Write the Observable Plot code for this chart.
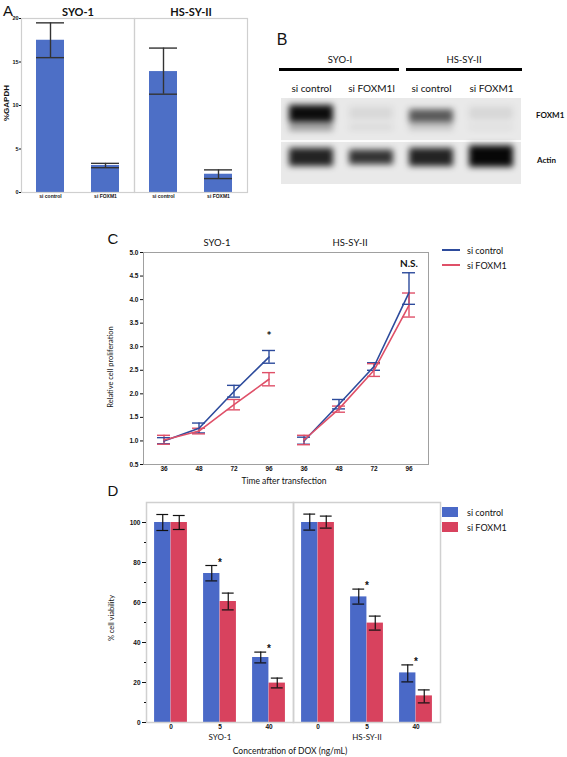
<!DOCTYPE html>
<html><head><meta charset="utf-8">
<script src="https://cdn.jsdelivr.net/npm/d3@7"></script>
<script src="https://cdn.jsdelivr.net/npm/@observablehq/plot@0.6"></script>
<style>
body{margin:0;background:#fff;}
#fig{position:relative;width:567px;height:757px;overflow:hidden;font-family:Lato,"Open Sans",sans-serif;color:#111;}
.abs{position:absolute;white-space:nowrap;line-height:1;}
</style></head><body><div id="fig"></div>
<script>
// ---------- Panel A: qPCR ----------
const aCellLines = ["SYO-1", "HS-SY-II"];
const aConditions = ["si control", "si FOXM1"];
const aMean = [17.5, 3.1, 13.9, 2.1];
const aLow = [15.5, 2.85, 11.3, 1.6];
const aHigh = [19.5, 3.35, 16.6, 2.6];
const aYTicks = [0, 5, 10, 15, 20];

// ---------- Panel B: western blot ----------
const bCellLines = ["SYO-I", "HS-SY-II"];
const bLaneIds = ["L1", "L2", "L3", "L4"];
const bLaneLabels = ["si control", "si FOXM1l", "si control", "si FOXM1"];
const bRowLabels = ["FOXM1", "Actin"];
const bFoxm1Intensity = [0.95, 0.07, 0.62, 0.08];
const bFoxm1Top = [1.84, 1.80, 1.74, 1.80];
const bFoxm1Bottom = [1.44, 1.50, 1.43, 1.50];
const bFoxm1LowerIntensity = [0.35, 0.08, 0.18, 0.05];
const bFoxm1LowerTop = [1.40, 1.38, 1.38, 1.38];
const bFoxm1LowerBottom = [1.24, 1.26, 1.26, 1.26];
const bActinIntensity = [0.85, 0.78, 0.85, 0.97];
const bActinTop = [0.84, 0.80, 0.84, 0.90];
const bActinBottom = [0.42, 0.46, 0.42, 0.40];

// ---------- Panel C: proliferation ----------
const cCellLines = ["SYO-1", "HS-SY-II"];
const cHours = ["36", "48", "72", "96"];
const cSeries = ["si control", "si FOXM1"];
const cSyoCtrlMean = [1.00, 1.27, 2.05, 2.78];
const cSyoCtrlLow = [0.94, 1.17, 1.93, 2.65];
const cSyoCtrlHigh = [1.07, 1.38, 2.18, 2.92];
const cSyoFoxMean = [1.02, 1.21, 1.77, 2.31];
const cSyoFoxLow = [0.93, 1.15, 1.66, 2.17];
const cSyoFoxHigh = [1.12, 1.27, 1.88, 2.45];
const cHsCtrlMean = [1.00, 1.78, 2.58, 4.15];
const cHsCtrlLow = [0.93, 1.68, 2.50, 3.90];
const cHsCtrlHigh = [1.08, 1.88, 2.66, 4.57];
const cHsFoxMean = [1.02, 1.68, 2.50, 3.88];
const cHsFoxLow = [0.92, 1.61, 2.37, 3.63];
const cHsFoxHigh = [1.12, 1.74, 2.64, 4.14];
const cYTicks = [0.5, 1.0, 1.5, 2.0, 2.5, 3.0, 3.5, 4.0, 4.5, 5.0];
const cNoteLabels = ["*", "N.S."];
const cNoteCells = ["SYO-1", "HS-SY-II"];
const cNoteHours = ["96", "96"];

// ---------- Panel D: viability ----------
const dCellLines = ["SYO-1", "HS-SY-II"];
const dDoses = ["0", "5", "40"];
const dSeries = ["si control", "si FOXM1"];
const dSyoCtrlMean = [100, 74.5, 32.5];
const dSyoCtrlLow = [96.0, 70.8, 29.8];
const dSyoCtrlHigh = [104.0, 78.5, 35.2];
const dSyoFoxMean = [100, 60.5, 19.7];
const dSyoFoxLow = [96.5, 56.3, 17.3];
const dSyoFoxHigh = [103.5, 64.7, 22.2];
const dHsCtrlMean = [100, 62.8, 24.8];
const dHsCtrlLow = [96.2, 59.2, 20.3];
const dHsCtrlHigh = [104.2, 66.7, 28.8];
const dHsFoxMean = [100, 49.7, 13.3];
const dHsFoxLow = [97.2, 46.2, 9.8];
const dHsFoxHigh = [103.2, 53.2, 16.3];
const dSignificant = [false, true, true];
const dYTicks = [0, 20, 40, 60, 80, 100];
const dMinorTicks = [10, 30, 50, 70, 90];

// colours
const aBlue = "#4d6fc6";
const cBlue = "#2d4b9c", cRed = "#df5068";
const dBlue = "#4a69c7", dRed = "#d8425e";
const tickFont = "'Liberation Sans', Arial, sans-serif";
const titleFont = "Lato, 'Open Sans', sans-serif";

const fig = document.getElementById("fig");
function place(el, left, top, width) {
  const w = document.createElement("div");
  w.className = "abs";
  w.style.left = left + "px"; w.style.top = top + "px";
  if (width) w.style.width = width + "px";
  w.append(el); fig.append(w); return w;
}
function label(text, cx, cy, size, opts = {}) {
  const d = document.createElement("div");
  d.className = "abs";
  d.textContent = text;
  d.style.fontSize = size + "px";
  d.style.fontFamily = opts.font || titleFont;
  d.style.fontWeight = opts.bold ? "bold" : "normal";
  if (opts.color) d.style.color = opts.color;
  d.style.left = cx + "px"; d.style.top = cy + "px";
  const rot = opts.rotate ? " rotate(-90deg)" : "";
  d.style.transform = (opts.left ? "translate(0,-50%)" : "translate(-50%,-50%)") + rot;
  fig.append(d); return d;
}
function swatch(left, top, w, h, color) {
  const d = document.createElement("div");
  d.className = "abs";
  Object.assign(d.style, {left: left + "px", top: top + "px", width: w + "px", height: h + "px", background: color});
  fig.append(d);
}

// ===== Panel A =====
const aData = aCellLines.flatMap((c, i) => aConditions.map((k, j) => ({
  cell: c, cond: k, mean: aMean[i * 2 + j], low: aLow[i * 2 + j], high: aHigh[i * 2 + j]
})));
const plotA = Plot.plot({
  width: 260, height: 200, marginLeft: 21, marginRight: 13, marginTop: 18, marginBottom: 8,
  style: {background: "transparent", overflow: "visible", fontFamily: tickFont, fontWeight: "bold", fontSize: "5.5px"},
  fx: {domain: aCellLines, padding: 0},
  x: {domain: aConditions, paddingInner: 0.49, paddingOuter: 0.27},
  y: {domain: [0, 20]},
  marks: [
    Plot.barY(aData, {fx: "cell", x: "cond", y: "mean", fill: aBlue}),
    Plot.ruleX(aData, {fx: "cell", x: "cond", y1: "low", y2: "high", stroke: "#333", strokeWidth: 1.4}),
    Plot.tickY(aData, {fx: "cell", x: "cond", y: "low", stroke: "#333", strokeWidth: 1.4, insetLeft: 0, insetRight: 0}),
    Plot.tickY(aData, {fx: "cell", x: "cond", y: "high", stroke: "#333", strokeWidth: 1.4, insetLeft: 0, insetRight: 0}),
    Plot.frame({stroke: "#cfcfcf", strokeWidth: 1.2}),
    Plot.axisY({ticks: aYTicks, tickSize: 2, tickPadding: 1, label: null, fontSize: 5.5}),
    Plot.axisX({tickSize: 0, tickPadding: 1.5, label: null, fontSize: 5}),
    Plot.axisFx({anchor: "top", tickSize: 0, tickPadding: 3, label: null, fontSize: 11, fontFamily: titleFont, fontWeight: "bold"})
  ]
});
place(plotA, 0, 0, 260);
label("A", 8, 10, 15, {font: tickFont});
label("%GAPDH", 7, 103, 8, {font: tickFont, bold: true, rotate: true});

// ===== Panel B =====
const bBackground = bLaneIds.flatMap(l => [
  {lane: l, y1: 1.02, y2: 2.0},
  {lane: l, y1: 0.0, y2: 0.98}
]);
const bBands = bLaneIds.flatMap((l, i) => [
  {lane: l, y1: bFoxm1Bottom[i], y2: bFoxm1Top[i], v: bFoxm1Intensity[i]},
  {lane: l, y1: bFoxm1LowerBottom[i], y2: bFoxm1LowerTop[i], v: bFoxm1LowerIntensity[i]},
  {lane: l, y1: bActinBottom[i], y2: bActinTop[i], v: bActinIntensity[i]}
]);
const laneLabel = d => bLaneLabels[bLaneIds.indexOf(d)];
const plotB = Plot.plot({
  width: 243, height: 106, marginLeft: 0, marginRight: 0, marginTop: 20, marginBottom: 0,
  style: {background: "transparent", overflow: "visible", fontFamily: titleFont, fontSize: "10px"},
  x: {domain: bLaneIds, padding: 0},
  y: {domain: [0, 2], axis: null},
  opacity: {type: "identity"},
  marks: [
    Plot.barY(bBackground, {x: "lane", y1: "y1", y2: "y2", fill: "#e9e9e9", inset: 0}),
    Plot.barY(bBands, {x: "lane", y1: "y1", y2: "y2", fill: "#000", fillOpacity: "v", insetLeft: 8, insetRight: 8, ariaDescription: "bands"}),
    Plot.axisX({anchor: "top", tickSize: 0, tickPadding: 7, label: null, fontSize: 10, tickFormat: laneLabel})
  ]
});
{
  const s = d3.select(plotB);
  const defs = s.insert("defs", ":first-child");
  defs.append("filter").attr("id", "blotBlur").attr("x", "-40%").attr("y", "-80%").attr("width", "180%").attr("height", "260%")
    .append("feGaussianBlur").attr("stdDeviation", 3);
  let g = s.selectAll('g[aria-description="bands"]');
  if (g.empty()) { const bars = s.selectAll('g[aria-label="bar"]').nodes(); g = d3.select(bars[bars.length - 1]); }
  g.attr("filter", "url(#blotBlur)");
}
place(plotB, 279, 78, 243);
label("B", 282, 40, 16, {font: tickFont});
label(bCellLines[0], 340, 60, 9.5);
label(bCellLines[1], 464, 60, 9.5);
swatch(279, 68, 120, 3, "#000");
swatch(406, 68, 116, 3, "#000");
label(bRowLabels[0], 536, 115, 8, {bold: true, left: true});
label(bRowLabels[1], 537, 160, 8, {bold: true, left: true});

// ===== Panel C =====
const cGroups = [
  {cell: "SYO-1", series: "si control", mean: cSyoCtrlMean, low: cSyoCtrlLow, high: cSyoCtrlHigh},
  {cell: "SYO-1", series: "si FOXM1", mean: cSyoFoxMean, low: cSyoFoxLow, high: cSyoFoxHigh},
  {cell: "HS-SY-II", series: "si control", mean: cHsCtrlMean, low: cHsCtrlLow, high: cHsCtrlHigh},
  {cell: "HS-SY-II", series: "si FOXM1", mean: cHsFoxMean, low: cHsFoxLow, high: cHsFoxHigh}
];
const cData = cGroups.flatMap(g => cHours.map((h, i) => ({
  key: g.cell + "|" + h, cell: g.cell, hour: h, series: g.series, z: g.cell + g.series,
  mean: g.mean[i], low: g.low[i], high: g.high[i]
})));
const cKeys = cCellLines.flatMap(c => cHours.map(h => c + "|" + h));
const cNotes = cNoteLabels.map((t, i) => {
  const k = cNoteCells[i] + "|" + cNoteHours[i];
  const top = d3.max(cData.filter(d => d.key === k), d => d.high);
  return {key: k, text: t, y: top + (t === "*" ? 0.3 : 0.2)};
});
const plotC = Plot.plot({
  width: 340, height: 255, marginLeft: 43, marginRight: 12, marginTop: 27, marginBottom: 16,
  style: {background: "transparent", overflow: "visible", fontFamily: tickFont, fontWeight: "bold", fontSize: "6.5px"},
  x: {domain: cKeys, padding: 0},
  y: {domain: [0.5, 5.0]},
  color: {domain: cSeries, range: [cBlue, cRed]},
  marks: [
    Plot.frame({stroke: "#a0a0a0", strokeWidth: 1}),
    Plot.ruleX(cData, {x: "key", y1: "low", y2: "high", stroke: "series", strokeWidth: 1.4}),
    Plot.tickY(cData, {x: "key", y: "low", stroke: "series", strokeWidth: 1.4, insetLeft: 11, insetRight: 11}),
    Plot.tickY(cData, {x: "key", y: "high", stroke: "series", strokeWidth: 1.4, insetLeft: 11, insetRight: 11}),
    Plot.line(cData, {x: "key", y: "mean", stroke: "series", z: "z", strokeWidth: 1.6}),
    Plot.text(cNotes, {x: "key", y: "y", text: "text", fontSize: d => d.text === "*" ? 12 : 10, fontFamily: titleFont, fontWeight: "bold", lineAnchor: "middle"}),
    Plot.axisY({ticks: cYTicks, tickFormat: ".1f", tickSize: 3, tickPadding: 2, label: null}),
    Plot.axisX({tickSize: 0, tickPadding: 2, label: null, tickFormat: d => d.split("|")[1]})
  ]
});
place(plotC, 100, 225, 340);
label("C", 113, 238, 15, {font: tickFont});
label(cCellLines[0], 217, 243, 9.5);
label(cCellLines[1], 350, 243, 9.5);
label("Relative cell proliferation", 111, 367, 7.5, {rotate: true});
label("Time after transfection", 284, 481, 8.5);
// legend C
swatch(442, 249, 18, 2, cBlue);
swatch(442, 264, 18, 2, cRed);
label(cSeries[0], 467, 250, 9, {left: true});
label(cSeries[1], 467, 265, 9, {left: true});

// ===== Panel D =====
const dGroups = [
  {cell: "SYO-1", series: "si control", mean: dSyoCtrlMean, low: dSyoCtrlLow, high: dSyoCtrlHigh},
  {cell: "SYO-1", series: "si FOXM1", mean: dSyoFoxMean, low: dSyoFoxLow, high: dSyoFoxHigh},
  {cell: "HS-SY-II", series: "si control", mean: dHsCtrlMean, low: dHsCtrlLow, high: dHsCtrlHigh},
  {cell: "HS-SY-II", series: "si FOXM1", mean: dHsFoxMean, low: dHsFoxLow, high: dHsFoxHigh}
];
const dData = dGroups.flatMap(g => dDoses.map((dose, i) => ({
  cell: g.cell, dose, series: g.series, mean: g.mean[i], low: g.low[i], high: g.high[i], sig: dSignificant[i]
})));
const dCtrl = dData.filter(d => d.series === dSeries[0]);
const dFox = dData.filter(d => d.series === dSeries[1]);
const dStars = dCtrl.filter(d => d.sig);
const barHalf = 16.5, bandHalf = (345 - 45 - 5) / 2 / dDoses.length / 2;
const capIn = bandHalf - 6;
const plotD = Plot.plot({
  width: 345, height: 272, marginLeft: 45, marginRight: 5, marginTop: 17, marginBottom: 35,
  style: {background: "transparent", overflow: "visible", fontFamily: tickFont, fontWeight: "bold", fontSize: "6.5px"},
  fx: {domain: dCellLines, padding: 0},
  x: {domain: dDoses, padding: 0},
  y: {domain: [0, 110]},
  marks: [
    Plot.barY(dCtrl, {fx: "cell", x: "dose", y: "mean", fill: dBlue, insetLeft: bandHalf - barHalf, insetRight: bandHalf}),
    Plot.barY(dFox, {fx: "cell", x: "dose", y: "mean", fill: dRed, insetLeft: bandHalf, insetRight: bandHalf - barHalf}),
    Plot.ruleX(dCtrl, {fx: "cell", x: "dose", y1: "low", y2: "high", dx: -barHalf / 2, stroke: "#111", strokeWidth: 1.2}),
    Plot.tickY(dCtrl, {fx: "cell", x: "dose", y: "low", dx: -barHalf / 2, stroke: "#111", strokeWidth: 1.2, insetLeft: capIn, insetRight: capIn}),
    Plot.tickY(dCtrl, {fx: "cell", x: "dose", y: "high", dx: -barHalf / 2, stroke: "#111", strokeWidth: 1.2, insetLeft: capIn, insetRight: capIn}),
    Plot.ruleX(dFox, {fx: "cell", x: "dose", y1: "low", y2: "high", dx: barHalf / 2, stroke: "#111", strokeWidth: 1.2}),
    Plot.tickY(dFox, {fx: "cell", x: "dose", y: "low", dx: barHalf / 2, stroke: "#111", strokeWidth: 1.2, insetLeft: capIn, insetRight: capIn}),
    Plot.tickY(dFox, {fx: "cell", x: "dose", y: "high", dx: barHalf / 2, stroke: "#111", strokeWidth: 1.2, insetLeft: capIn, insetRight: capIn}),
    Plot.text(dStars, {fx: "cell", x: "dose", y: d => d.high + 1.5, text: () => "*", fontSize: 10, fontWeight: "bold", lineAnchor: "middle"}),
    Plot.frame({stroke: "#d0d0d0", strokeWidth: 1.5}),
    Plot.axisY({ticks: dYTicks, tickSize: 4, tickPadding: 2, label: null}),
    Plot.axisY({ticks: dMinorTicks, tickSize: 2, tickFormat: () => "", label: null}),
    Plot.axisX({tickSize: 0, tickPadding: 2, label: null}),
    Plot.axisFx({anchor: "bottom", tickSize: 0, tickPadding: 12, label: null, fontSize: 8, fontFamily: titleFont, fontWeight: "normal"})
  ]
});
place(plotD, 100, 485, 345);
label("D", 113, 490, 15, {font: tickFont});
label("% cell viability", 112, 618, 7.5, {rotate: true});
label("Concentration of DOX (ng/mL)", 290, 751, 8.5);
swatch(442, 507, 16, 10, dBlue);
swatch(442, 522, 16, 10, dRed);
label(dSeries[0], 467, 512, 9, {left: true});
label(dSeries[1], 467, 527, 9, {left: true});
</script></body></html>
